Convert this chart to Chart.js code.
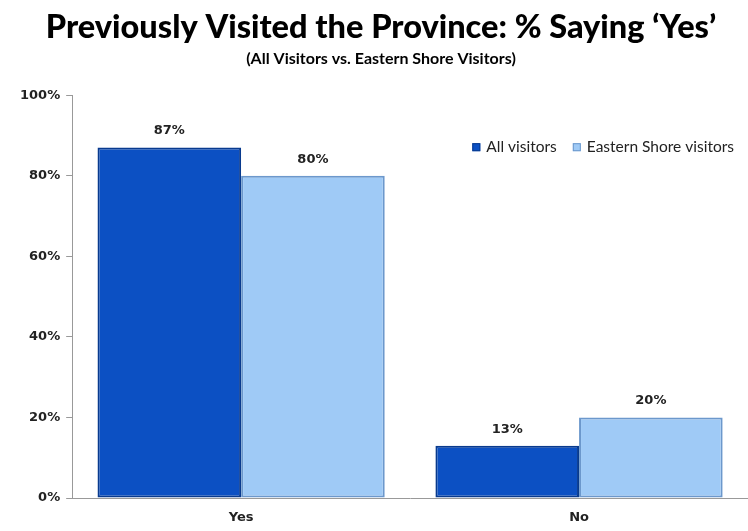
<!DOCTYPE html>
<html>
<head>
<meta charset="utf-8">
<script src="https://cdn.jsdelivr.net/npm/chart.js@4/dist/chart.umd.min.js"></script>
<style>
  html, body { margin: 0; padding: 0; background: #fff; }
  #wrap { width: 748px; height: 531px; position: relative; }
</style>
</head>
<body>
<div id="wrap"><canvas id="c"></canvas></div>
<script>
// values
const categories = ['Yes', 'No'];
const allVisitors = [87, 13];
const easternShore = [80, 20];
const yTicks = [0, 20, 40, 60, 80, 100];

// draws the "87%" style labels over each bar
const valueLabels = {
  id: 'valueLabels',
  afterDatasetsDraw(chart) {
    const ctx = chart.ctx;
    ctx.save();
    ctx.font = 'bold 13px "DejaVu Sans"';
    ctx.fillStyle = '#222';
    ctx.textAlign = 'center';
    ctx.textBaseline = 'bottom';
    chart.data.datasets.forEach((ds, i) => {
      chart.getDatasetMeta(i).data.forEach((bar, j) => {
        ctx.fillText(ds.data[j] + '%', bar.x, bar.y - 10);
      });
    });
    ctx.restore();
  }
};

// legend sits inside the plot, top right (like the original)
const insideLegend = {
  id: 'insideLegend',
  afterDraw(chart) {
    const ctx = chart.ctx;
    const area = chart.chartArea;
    ctx.save();
    ctx.font = '15.5px Lato';
    ctx.textBaseline = 'middle';
    const y = area.top + 52;
    const items = chart.data.datasets.map((ds) => ({
      text: ds.label, fill: ds.backgroundColor, stroke: ds.borderColor,
    }));
    const box = 8, gapText = 6, gapItem = 16;
    let total = 0;
    items.forEach((it, i) => {
      total += box + gapText + ctx.measureText(it.text).width + (i ? gapItem : 0);
    });
    let x = area.right - 14 - total;
    items.forEach((it) => {
      ctx.fillStyle = it.fill;
      ctx.fillRect(x, y - box / 2, box, box);
      ctx.strokeStyle = it.stroke;
      ctx.lineWidth = 1;
      ctx.strokeRect(x + 0.5, y - box / 2 + 0.5, box - 1, box - 1);
      x += box + gapText;
      ctx.fillStyle = '#222';
      ctx.fillText(it.text, x, y);
      x += ctx.measureText(it.text).width + gapItem;
    });
    ctx.restore();
  }
};

new Chart(document.getElementById('c'), {
  type: 'bar',
  data: {
    labels: categories,
    datasets: [
      {
        label: 'All visitors',
        data: allVisitors,
        backgroundColor: '#0c50c3',
        borderColor: '#083a8e',
        borderWidth: 2,
        borderSkipped: false,
      },
      {
        label: 'Eastern Shore visitors',
        data: easternShore,
        backgroundColor: '#9fcaf6',
        borderColor: '#6c98cc',
        borderWidth: 2,
        borderSkipped: false,
      },
    ],
  },
  options: {
    responsive: true,
    maintainAspectRatio: false,
    animation: false,
    layout: { padding: { left: 14, right: 0, top: 0, bottom: -6 } },
    datasets: {
      bar: { barPercentage: 1.0, categoryPercentage: 0.85 },
    },
    plugins: {
      title: {
        display: true,
        text: 'Previously Visited the Province: % Saying \u2018Yes\u2019',
        color: '#000',
        font: { family: 'Lato', size: 32.5, weight: '900' },
        padding: { top: 8, bottom: 2 },
      },
      subtitle: {
        display: true,
        text: '(All Visitors vs. Eastern Shore Visitors)',
        color: '#000',
        font: { family: 'Lato', size: 16, weight: 'bold' },
        padding: { bottom: 27 },
      },
      legend: { display: false },
      tooltip: { enabled: false },
    },
    scales: {
      x: {
        grid: { display: true, drawOnChartArea: false, drawTicks: false, color: '#999' },
        border: { color: '#999', width: 1 },
        ticks: {
          color: '#222',
          padding: 13,
          font: { family: 'DejaVu Sans', size: 13, weight: 'bold', lineHeight: 1 },
        },
      },
      y: {
        min: 0,
        max: 100,
        afterBuildTicks(axis) {
          axis.ticks = yTicks.map((v) => ({ value: v }));
        },
        grid: { display: true, drawOnChartArea: false, tickLength: 6, color: '#999' },
        border: { color: '#999', width: 1 },
        ticks: {
          color: '#222',
          padding: 6,
          font: { family: 'DejaVu Sans', size: 13, weight: 'bold' },
          callback: (v) => v + '%',
        },
      },
    },
  },
  plugins: [valueLabels, insideLegend],
});
</script>
</body>
</html>
